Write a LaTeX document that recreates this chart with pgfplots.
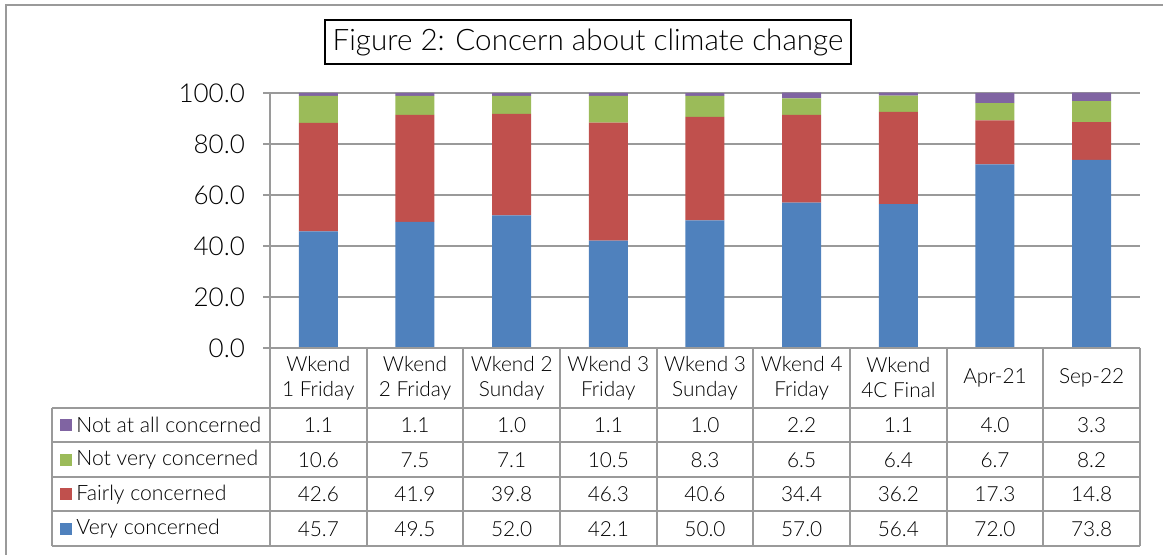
\documentclass[border=0pt]{standalone}
\usepackage{pgfplots}
\usepackage{pgfplotstable}
\pgfplotsset{compat=1.18}
\usepackage{fontspec}
\setmainfont{Lato}[UprightFont=* Light]

\definecolor{cvery}{HTML}{4F81BD}
\definecolor{cfairly}{HTML}{C0504D}
\definecolor{cnotvery}{HTML}{9BBB59}
\definecolor{cnotall}{HTML}{8064A2}
\definecolor{gridgray}{HTML}{9A9A9A}

\pgfplotstableread{
x very fairly notvery notall
0 45.7 42.6 10.6 1.1
1 49.5 41.9 7.5  1.1
2 52.0 39.8 7.1  1.0
3 42.1 46.3 10.5 1.1
4 50.0 40.6 8.3  1.0
5 57.0 34.4 6.5  2.2
6 56.4 36.2 6.4  1.1
7 72.0 17.3 6.7  4.0
8 73.8 14.8 8.2  3.3
}\data

\begin{document}
\begin{tikzpicture}
\useasboundingbox (0,0) rectangle (581.5pt,277.5pt);

\begin{axis}[
    at={(135pt,103.5pt)}, anchor=south west,
    scale only axis,
    width=435pt, height=127.5pt,
    xmin=-0.5, xmax=8.5,
    ymin=0, ymax=100,
    ytick={0,20,40,60,80,100},
    xtick=\empty,
    ybar stacked, bar width=19.5pt,
    axis line style={draw=none},
    ymajorgrids, grid style={gridgray, line width=1pt},
    tick align=outside, tick pos=left,
    major tick length=3.5pt,
    ytick style={gridgray, line width=1pt},
    yticklabel style={font=\fontsize{13}{15}\selectfont, xshift=-5.5pt},
    /pgf/number format/assume math mode=true,
    yticklabel={\pgfmathprintnumber[fixed,zerofill,precision=1]{\tick}},
    clip=false,
]
\addplot[fill=cvery, draw=none] table[x=x, y=very] {\data};
\addplot[fill=cfairly, draw=none] table[x=x, y=fairly] {\data};
\addplot[fill=cnotvery, draw=none] table[x=x, y=notvery] {\data};
\addplot[fill=cnotall, draw=none] table[x=x, y=notall] {\data};
\end{axis}

\begin{scope}[x=0.5pt, y=-0.5pt, shift={(0,277.5pt)}]
  % outer frame
  \draw[gridgray, line width=1pt] (6,560) -- (6,5) -- (1170,5);
  % title
  \node[draw=black, line width=0.8pt, minimum width=263pt, minimum height=22pt,
        inner sep=0pt, font=\fontsize{14.8}{17}\selectfont] at (588,42)
        {Figure 2: Concern about climate change};
  % table grid
  \begin{scope}[gridgray, line width=1pt]
    \draw (270,93) -- (270,546);
    \foreach \c in {1,...,9} \draw ({270+\c*96.667},348) -- ({270+\c*96.667},546);
    \draw (270,348) -- (1140,348);
    \foreach \r in {408,442.5,477,511.5,546} \draw (52,\r) -- (1140,\r);
    \draw (52,408) -- (52,546);
  \end{scope}
  % header labels
  \foreach \lab [count=\i from 0] in {Wkend\\1 Friday, Wkend\\2 Friday, Wkend 2\\Sunday,
      Wkend 3\\Friday, Wkend 3\\Sunday, Wkend 4\\Friday, Wkend\\4C Final, Apr-21, Sep-22}
    \node[align=center, font=\fontsize{10.4}{12.5}\selectfont, inner sep=0pt]
      at ({270+(\i+0.5)*96.667},378) {\lab};
  % legend column
  \foreach \nm/\col/\y in {Not at all concerned/cnotall/425.25, Not very concerned/cnotvery/459.75,
      Fairly concerned/cfairly/494.25, Very concerned/cvery/528.75} {
    \fill[\col] (60,\y-6) rectangle (72,\y+6);
    \node[anchor=west, font=\fontsize{10.6}{12}\selectfont, inner sep=0pt] at (76,\y) {\nm};
  }
  % values
  \foreach \i in {0,...,8} {
    \foreach \colname/\y in {notall/425.25, notvery/459.75, fairly/494.25, very/528.75} {
      \pgfplotstablegetelem{\i}{\colname}\of\data
      \node[font=\fontsize{10.4}{12}\selectfont, inner sep=0pt] at ({270+(\i+0.5)*96.667},\y)
        {\pgfmathprintnumber[fixed,zerofill,precision=1,assume math mode=true]{\pgfplotsretval}};
    }
  }
\end{scope}
\end{tikzpicture}
\end{document}
